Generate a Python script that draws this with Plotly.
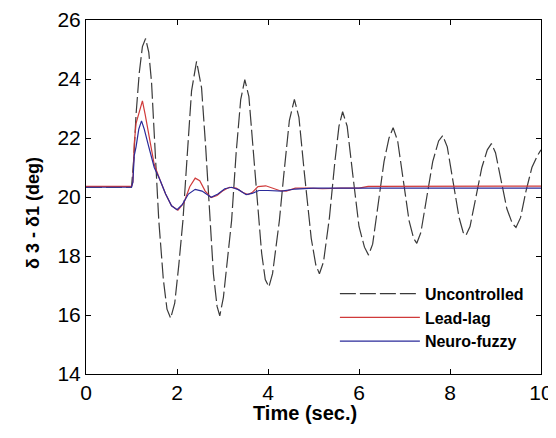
import plotly.graph_objects as go

# Uncontrolled response (time in s, angle difference in deg)
unc_t = [0, 1.0, 1.05, 1.10, 1.17, 1.24, 1.31, 1.38, 1.44, 1.52, 1.60, 1.70, 1.78, 1.86,
         1.95, 2.04, 2.13, 2.22, 2.32, 2.43, 2.54, 2.63, 2.72, 2.80, 2.88, 2.94,
         3.02, 3.10, 3.20, 3.30, 3.40, 3.49, 3.58, 3.68, 3.78, 3.86, 3.94, 4.02,
         4.10, 4.25, 4.35, 4.47, 4.58, 4.68, 4.80, 4.95, 5.05, 5.13,
         5.22, 5.35, 5.47, 5.56, 5.64, 5.74, 5.86, 6.00, 6.12, 6.21,
         6.30, 6.42, 6.55, 6.66, 6.75, 6.85, 6.97, 7.10, 7.20, 7.27,
         7.36, 7.48, 7.62, 7.75, 7.84, 7.94, 8.06, 8.20, 8.29, 8.35,
         8.44, 8.56, 8.70, 8.82, 8.91, 9.00, 9.12, 9.25, 9.37, 9.45,
         9.55, 9.67, 9.80, 9.92, 10.0]
unc_v = [20.33, 20.33, 21.3, 22.8, 24.2, 25.1, 25.37, 24.9, 23.9, 21.7, 19.2, 17.2, 16.2, 15.89,
         16.4, 17.7, 19.2, 21.3, 23.6, 24.60, 23.7, 21.7, 19.2, 17.4, 16.3, 15.97,
         16.6, 17.7, 19.2, 21.5, 23.3, 23.98, 23.4, 21.5, 19.6, 18.1, 17.2, 16.95,
         17.4, 19.2, 20.8, 22.6, 23.31, 22.7, 20.8, 18.6, 17.7, 17.40,
         17.8, 19.3, 21.2, 22.4, 22.89, 22.4, 20.8, 19.0, 18.3, 18.03,
         18.4, 19.7, 21.2, 22.0, 22.35, 21.9, 20.6, 19.2, 18.6, 18.43,
         18.8, 19.9, 21.2, 21.9, 22.08, 21.7, 20.6, 19.3, 18.8, 18.70,
         19.0, 19.9, 21.0, 21.6, 21.81, 21.5, 20.6, 19.6, 19.1, 18.97,
         19.3, 20.2, 21.0, 21.4, 21.6]

# Lead-lag controller response
ll_t = [0, 1.0, 1.03, 1.06, 1.10, 1.17, 1.24, 1.30, 1.40, 1.50, 1.62, 1.75, 1.88, 2.02,
        2.15, 2.28, 2.40, 2.50, 2.62, 2.75, 2.88, 3.00, 3.15, 3.30, 3.45, 3.56, 3.65,
        3.78, 3.95, 4.10, 4.25, 4.40, 4.60, 4.90, 5.20, 5.60, 6.00, 6.20, 7.00, 8.00, 10.0]
ll_v = [20.36, 20.36, 20.5, 21.8, 22.5, 22.9, 23.26, 22.8, 21.9, 21.1, 20.6, 20.1, 19.7, 19.55,
        19.8, 20.35, 20.64, 20.55, 20.2, 19.98, 20.05, 20.2, 20.33, 20.3, 20.15, 20.08, 20.15,
        20.35, 20.38, 20.3, 20.22, 20.2, 20.3, 20.3, 20.28, 20.3, 20.3, 20.36, 20.36, 20.37, 20.37]

# Neuro-fuzzy controller response
nf_t = [0, 1.0, 1.03, 1.06, 1.10, 1.16, 1.22, 1.28, 1.38, 1.50, 1.62, 1.75, 1.88, 2.00,
        2.12, 2.25, 2.40, 2.55, 2.75, 2.90, 3.05, 3.20, 3.35, 3.52, 3.65, 3.80, 4.00,
        4.30, 4.60, 5.00, 10.0]
nf_v = [20.33, 20.33, 20.5, 21.4, 21.7, 22.3, 22.58, 22.3, 21.7, 21.0, 20.6, 20.1, 19.7, 19.57,
        19.75, 20.1, 20.26, 20.2, 19.99, 20.1, 20.28, 20.33, 20.25, 20.08, 20.12, 20.22, 20.22,
        20.2, 20.27, 20.3, 20.3]

x_ticks = [0, 2, 4, 6, 8, 10]
y_ticks = [14, 16, 18, 20, 22, 24, 26]

FONT = "Liberation Sans, Arial"

fig = go.Figure()
fig.add_trace(go.Scatter(x=unc_t, y=unc_v, mode="lines", name="Uncontrolled",
                         line=dict(color="#3a3a3a", width=1.2, dash="16px,4px")))
fig.add_trace(go.Scatter(x=ll_t, y=ll_v, mode="lines", name="Lead-lag",
                         line=dict(color="#d03a3a", width=1.2)))
fig.add_trace(go.Scatter(x=nf_t, y=nf_v, mode="lines", name="Neuro-fuzzy",
                         line=dict(color="#2a2a9a", width=1.2)))

axis_common = dict(showline=True, linecolor="black", linewidth=1, mirror="ticks",
                   ticks="inside", ticklen=5, tickcolor="black", showgrid=False,
                   zeroline=False, automargin=False, ticklabeloverflow="allow",
                   tickfont=dict(family=FONT, size=21, color="black"))

# margins compensate for the page's default 8px body offset
fig.update_layout(
    width=556, height=438,
    margin=dict(l=78, r=23, t=12, b=72),
    paper_bgcolor="white", plot_bgcolor="white",
    xaxis=dict(range=[0, 10], tickvals=x_ticks, ticktext=[str(v) for v in x_ticks], **axis_common),
    yaxis=dict(range=[14, 26], tickvals=y_ticks, ticktext=[str(v) for v in y_ticks], **axis_common),
    legend=dict(x=0.547, y=0.275, xanchor="left", yanchor="top",
                bgcolor="rgba(0,0,0,0)", borderwidth=0, itemwidth=80,
                font=dict(family=FONT, size=16, color="black", weight="bold")),
    showlegend=True,
    annotations=[
        dict(text="<b>Time (sec.)</b>", xref="paper", yref="paper", x=0.481, y=-0.11,
             xanchor="center", yanchor="middle", showarrow=False,
             font=dict(family=FONT, size=20, color="black")),
        dict(text="<b>δ 3 - δ1 (deg)</b>", xref="paper", yref="paper", x=-0.1165, y=0.455,
             xanchor="center", yanchor="middle", showarrow=False, textangle=-90,
             font=dict(family=FONT, size=18, color="black")),
    ],
)

fig.write_html("out.html")
